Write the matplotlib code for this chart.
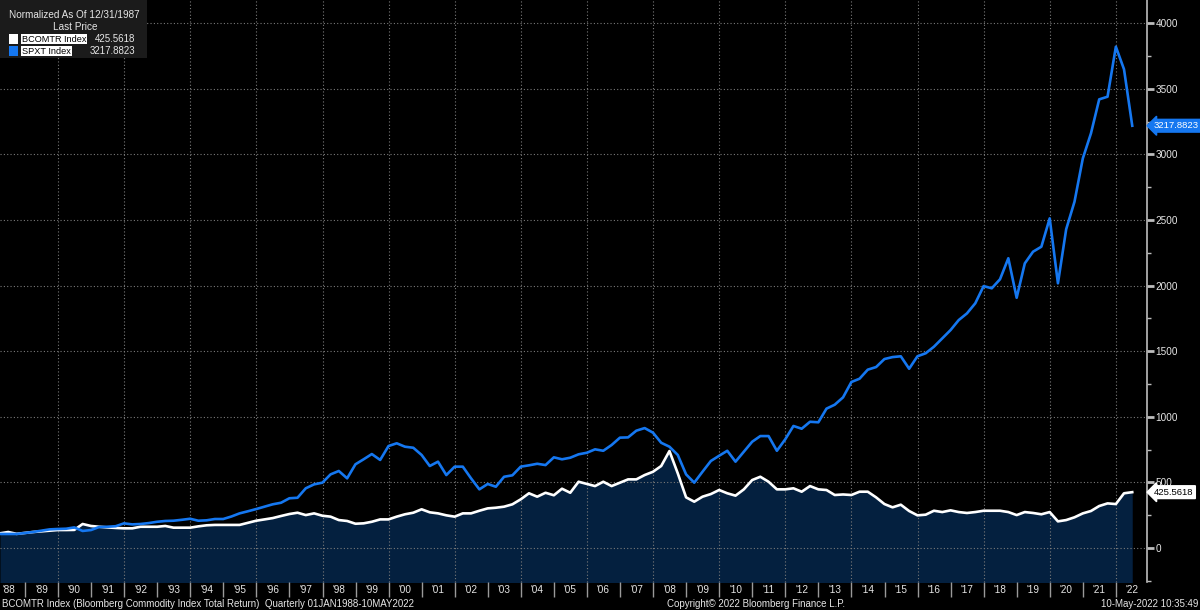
import numpy as np
import pandas as pd
import matplotlib
matplotlib.use('Agg')
import matplotlib.pyplot as plt
import matplotlib.dates as mdates
from matplotlib.patches import Rectangle

# quarterly, normalized to 100 at 12/31/1987
dates = pd.date_range('1988-03-31', periods=138, freq='QE')

bcomtr = [112, 122, 108, 115, 122, 127, 132, 137, 137, 138,
          183, 168, 162, 157, 153, 150, 150, 162, 162, 162,
          168, 155, 155, 155, 165, 173, 176, 176, 176, 176,
          192, 208, 218, 228, 244, 259, 269, 251, 264, 246,
          239, 213, 206, 185, 188, 200, 218, 218, 239, 257,
          269, 295, 272, 264, 249, 239, 264, 264, 284, 302,
          307, 315, 333, 371, 417, 391, 421, 402, 452, 421,
          505, 488, 472, 505, 472, 498, 523, 523, 556, 581,
          625, 739, 569, 386, 353, 391, 411, 442, 417, 399,
          447, 518, 543, 505, 447, 447, 455, 429, 472, 447,
          442, 404, 408, 404, 429, 429, 386, 335, 310, 330,
          282, 249, 254, 284, 274, 287, 274, 267, 274, 284,
          284, 284, 274, 251, 274, 267, 257, 274, 203, 213,
          234, 264, 282, 320, 340, 335, 417, 425.5618]

spxt = [107, 107, 107, 115, 122, 132, 142, 145, 147, 157,
        130, 137, 160, 162, 166, 188, 180, 183, 190, 200,
        206, 208, 215, 223, 208, 211, 221, 221, 240, 264,
        280, 297, 315, 333, 345, 379, 383, 455, 485, 498,
        561, 587, 531, 638, 676, 716, 671, 777, 798, 772,
        764, 709, 625, 658, 556, 620, 620, 531, 447, 488,
        467, 543, 554, 620, 630, 642, 632, 691, 676, 688,
        714, 726, 752, 741, 785, 841, 843, 894, 914, 879,
        802, 772, 709, 561, 498, 581, 663, 703, 741, 658,
        734, 810, 853, 853, 741, 828, 930, 909, 962, 958,
        1062, 1092, 1148, 1265, 1290, 1359, 1379, 1440, 1455, 1461,
        1366, 1461, 1484, 1534, 1598, 1661, 1737, 1788, 1865, 1996,
        1979, 2048, 2208, 1907, 2169, 2258, 2296, 2512, 2017, 2429,
        2639, 2969, 3160, 3419, 3439, 3820, 3648, 3217.8823]

names = ['BCOMTR Index', 'SPXT Index']
last_vals = ['425.5618', '3217.8823']
footer_left = 'BCOMTR Index (Bloomberg Commodity Index Total Return)  Quarterly 01JAN1988-10MAY2022'
footer_mid = 'Copyright\u00a9 2022 Bloomberg Finance L.P.'
footer_right = '10-May-2022 10:35:49'

BLUE = '#1577f0'
NAVY = '#04203f'
TXT = '#e6e6e6'
plt.rcParams['font.family'] = ['Liberation Sans', 'DejaVu Sans']

W, H = 1200, 610
def fx(px):
    return px / W
def fy(py):
    return 1 - py / H

fig = plt.figure(figsize=(12, 6.1), dpi=100, facecolor='black')
ax = fig.add_axes([0, fy(582), fx(1147), fy(0) - fy(582)])
ax.set_facecolor('black')

ax.fill_between(dates, bcomtr, -400, color=NAVY, lw=0, zorder=1)
ax.plot(dates, bcomtr, color='white', lw=1.9, zorder=4)
ax.plot(dates, spxt, color=BLUE, lw=1.9, zorder=5)

ax.set_ylim(-259, 4176)
ax.set_xlim(pd.Timestamp('1988-03-31'), pd.Timestamp('2022-12-10'))

# grid
for yv in range(0, 4001, 500):
    ax.axhline(yv, color='#7a7a7a', lw=0.8, ls=(0, (1, 2)), zorder=2)
for yr in range(1990, 2023, 2):
    ax.axvline(pd.Timestamp(f'{yr}-01-01'), color='#7a7a7a', lw=0.8, ls=(0, (1, 2)), zorder=2)

# y axis on the right
ax.yaxis.tick_right()
ax.set_yticks(range(0, 4001, 500))
ax.set_yticks(range(-250, 4001, 250), minor=True)
ax.tick_params(axis='y', which='major', colors='#bdbdbd', length=5, width=2,
               labelsize=7.2, labelcolor=TXT, pad=1)
ax.tick_params(axis='y', which='minor', colors='#bdbdbd', length=3, width=1)
for s in ['left', 'top', 'bottom']:
    ax.spines[s].set_visible(False)
ax.spines['right'].set_color('#bdbdbd')
ax.spines['right'].set_linewidth(1.2)

# x axis: separators at year starts, labels in the middle of each year
ax.xaxis.set_major_locator(mdates.YearLocator(1))
ax.xaxis.set_major_formatter(plt.NullFormatter())
ax.xaxis.set_minor_locator(mdates.YearLocator(1, month=7, day=2))
ax.xaxis.set_minor_formatter(mdates.DateFormatter("'%y"))
ax.tick_params(axis='x', which='major', colors='#9a9a9a', length=11, width=1, direction='out')
ax.tick_params(axis='x', which='minor', length=0, labelsize=7.2, labelcolor=TXT, pad=2)

# last value tags
ax.annotate(last_vals[1], xy=(1.0, spxt[-1]), xycoords=('axes fraction', 'data'),
            xytext=(5, 0), textcoords='offset points', va='center', ha='left',
            fontsize=6.8, color='white', annotation_clip=False, zorder=10,
            bbox=dict(boxstyle='larrow,pad=0.2', fc=BLUE, ec=BLUE))
ax.annotate(last_vals[0], xy=(1.0, bcomtr[-1]), xycoords=('axes fraction', 'data'),
            xytext=(5, 0), textcoords='offset points', va='center', ha='left',
            fontsize=6.8, color='black', annotation_clip=False, zorder=10,
            bbox=dict(boxstyle='larrow,pad=0.2', fc='white', ec='white'))

# legend box top-left
fig.patches.append(Rectangle((0, fy(58)), fx(147), fy(0) - fy(58), transform=fig.transFigure,
                             fc='#1b1b1b', ec='none', zorder=5))
fig.text(fx(9), fy(15), 'Normalized As Of 12/31/1987', color=TXT, fontsize=7.2, va='center', zorder=6)
fig.text(fx(75), fy(27), 'Last Price', color=TXT, fontsize=7.2, va='center', ha='center', zorder=6)
colors = ['white', BLUE]
for k in range(2):
    yy = 39 + 12 * k
    fig.patches.append(Rectangle((fx(9), fy(yy + 5)), fx(9), fy(yy - 5) - fy(yy + 5),
                                 transform=fig.transFigure, fc=colors[k], ec='none', zorder=6))
    fig.text(fx(22), fy(yy), names[k], color='black', fontsize=6.6, va='center', zorder=7,
             bbox=dict(boxstyle='square,pad=0.08', fc='white', ec='none'))
    fig.text(fx(135), fy(yy), last_vals[k], color=TXT, fontsize=7.0, va='center', ha='right', zorder=7)

# footer
fig.text(fx(2), fy(604), footer_left, color=TXT, fontsize=7.0, va='center')
fig.text(fx(667), fy(604), footer_mid, color=TXT, fontsize=7.0, va='center')
fig.text(fx(1198), fy(604), footer_right, color=TXT, fontsize=7.0, va='center', ha='right')

fig.savefig('out.png', dpi=100, facecolor='black')
